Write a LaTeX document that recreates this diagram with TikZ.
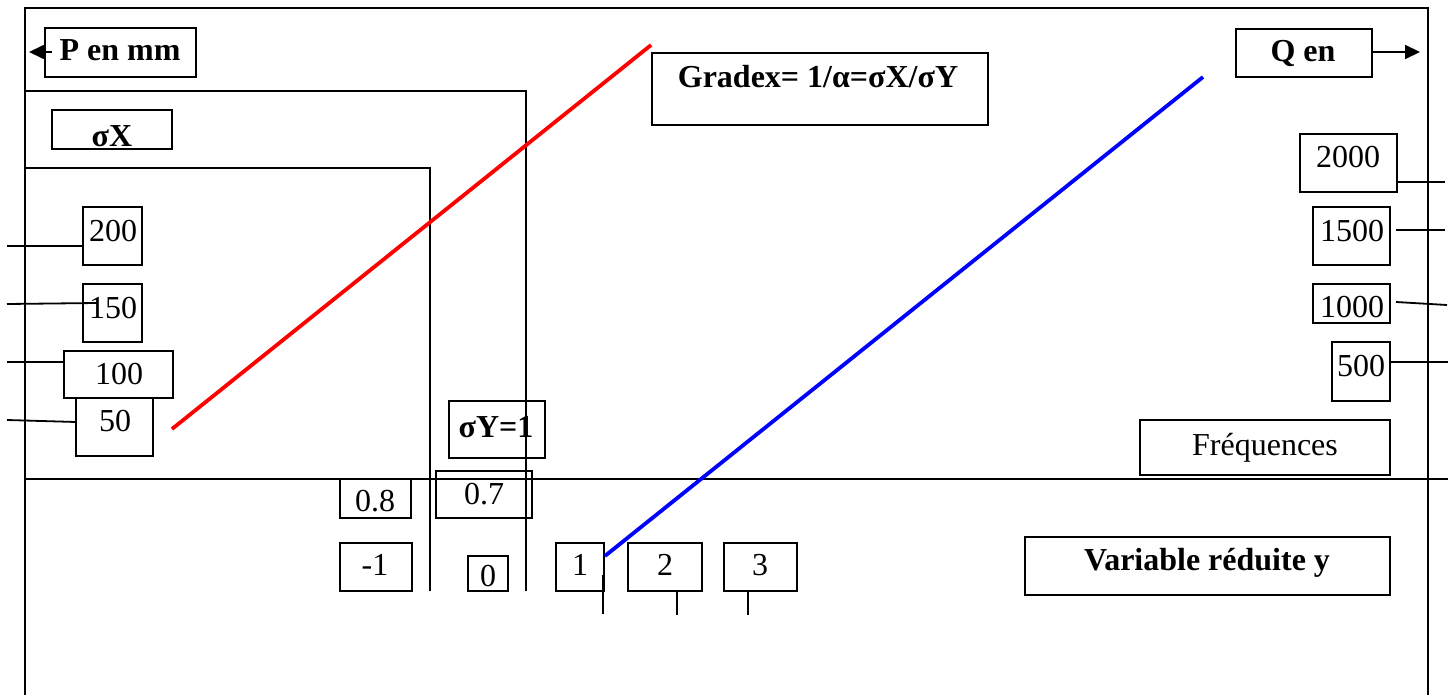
\documentclass[tikz,border=0pt]{standalone}
\usepackage{fontspec}
\setmainfont{Liberation Serif}
\usetikzlibrary{arrows.meta}
\newcommand\wb[5]{\node[wbox, minimum width={(#4-#2)*0.5pt}, minimum height={(#5-#3)*0.5pt}] (#1) at ({(#2+#4)/2},{(#3+#5)/2}) {};}
\newcommand\tx[5][]{\node[txt,#1] (#2) at (#3,#4) {#5};}
\begin{document}
\begin{tikzpicture}[x=0.5pt,y=-0.5pt,
  wbox/.style={draw, line width=0.9pt, inner sep=0pt},
  txt/.style={anchor=base, inner sep=0pt, font=\fontsize{16}{19}\selectfont},
  bld/.style={font=\fontsize{16}{19}\selectfont\bfseries},
  ln/.style={line width=0.9pt},
  arr/.style={line width=0.9pt, -{Triangle[length=7.5pt,width=7pt]}},
  graph/.style={line width=1.9pt}]
\useasboundingbox (0,0) rectangle (1454,695);
% frame and axes
\draw[ln] (25,695) -- (25,8) -- (1428,8) -- (1428,695);
\draw[ln] (25,91) -- (526,91) -- (526,591);
\draw[ln] (25,168) -- (430,168) -- (430,591);
\draw[ln] (25,479) -- (1448,479);
% boxes
\wb{P}{45}{28}{196}{77}
\wb{sX}{52}{110}{172}{149}
\wb{grad}{652}{53}{988}{125}
\wb{Q}{1236}{29}{1372}{77}
\wb{b2000}{1300}{134}{1397}{192}
\wb{b1500}{1313}{207}{1390}{265}
\wb{b1000}{1313}{284}{1390}{323}
\wb{b500}{1332}{342}{1390}{401}
\wb{b200}{83}{207}{142}{265}
\wb{b150}{83}{284}{142}{342}
\wb{b100}{64}{351}{173}{398}
\wb{b50}{76}{398}{153}{456}
\wb{sY}{449}{401}{545}{458}
\wb{b08}{340}{479}{411}{518}
\wb{b07}{436}{471}{532}{518}
\wb{bm1}{340}{543}{412}{591}
\wb{b0}{468}{556}{508}{591}
\wb{b1}{556}{543}{604}{591}
\wb{b2}{628}{543}{702}{591}
\wb{b3}{724}{543}{797}{591}
\wb{freq}{1140}{420}{1390}{475}
\wb{var}{1025}{537}{1390}{595}
% texts
\tx[bld]{tP}{120}{61}{P en mm}
\tx[bld]{tsX}{112}{147}{σX}
\tx[bld]{tgrad}{818}{88}{Gradex= 1/α=σX/σY}
\tx[bld]{tQ}{1303}{62}{Q en}
\tx{t2000}{1348}{168}{2000}
\tx{t1500}{1352}{242}{1500}
\tx{t1000}{1352}{317}{1000}
\tx{t500}{1361}{376}{500}
\tx{t200}{113}{242}{200}
\tx{t150}{113}{318}{150}
\tx{t100}{119}{384}{100}
\tx{t50}{115}{431}{50}
\tx[bld]{tsY}{496}{437}{σY=1}
\tx{t08}{375}{511}{0.8}
\tx{t07}{484}{504}{0.7}
\tx{tm1}{375}{575}{-1}
\tx{t0}{488}{586}{0}
\tx{t1}{580}{575}{1}
\tx{t2}{665}{575}{2}
\tx{t3}{760}{575}{3}
\tx{tfreq}{1265}{455}{Fréquences}
\tx[bld]{tvar}{1207}{570}{Variable réduite y}
% free ends
\coordinate (pa) at (52,52);  \coordinate (pt) at (29,52);
\coordinate (qt) at (1420,52);
\coordinate (l200) at (7,246);  \coordinate (l150) at (7,304);
\coordinate (l100) at (7,362);  \coordinate (l50) at (7,420);
\coordinate (r2000) at (1445,182); \coordinate (r1500) at (1445,230);
\coordinate (r1000) at (1447,305); \coordinate (r500) at (1448,362);
\coordinate (x1) at (603,614); \coordinate (x2) at (677,615); \coordinate (x3) at (748,615);
% arrows
\draw[arr] (pa) -- (pt);
\draw[arr] (Q.east |- qt) -- (qt);
% ticks
\draw[ln] (l200) -- (b200.west |- l200);
\draw[ln] (l150) -- (97,303);
\draw[ln] (l100) -- (b100.west |- l100);
\draw[ln] (l50) -- (76,422);
\draw[ln] (b2000.east |- r2000) -- (r2000);
\draw[ln] (1396,230) -- (r1500);
\draw[ln] (1396,302) -- (r1000);
\draw[ln] (b500.east |- r500) -- (r500);
\draw[ln] (603,575) -- (x1);
\draw[ln] (x2 |- b2.south) -- (x2);
\draw[ln] (x3 |- b3.south) -- (x3);
% graph lines
\draw[graph, red] (172,429) -- (grad.north west |- 0,45);
\draw[graph, blue] (b1.east |- 0,556) -- (1203,77);
\end{tikzpicture}
\end{document}
